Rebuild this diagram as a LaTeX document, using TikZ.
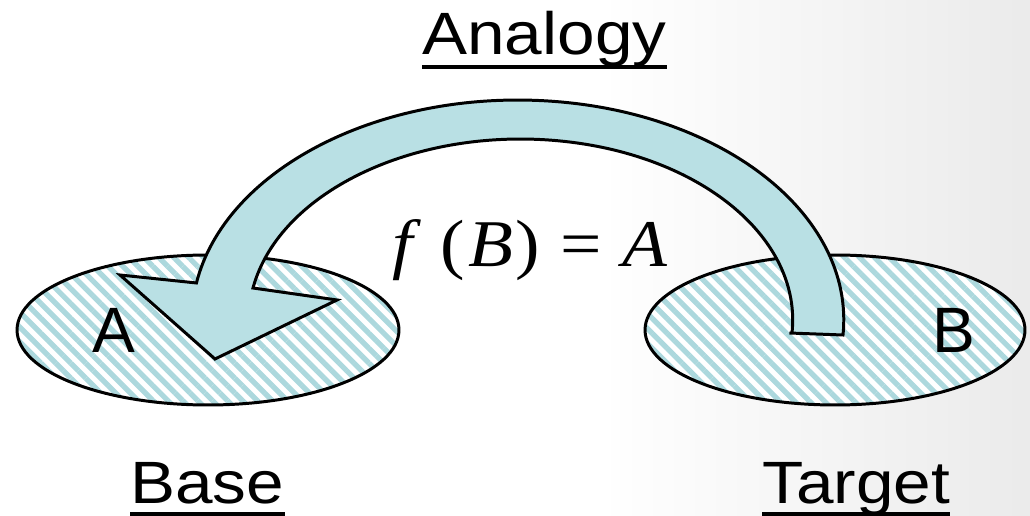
\documentclass[tikz,border=0pt]{standalone}
\usepackage{fontspec}
\setmainfont{Liberation Sans}
\newfontfamily\tms{Liberation Serif}
\usetikzlibrary{shapes.geometric,patterns.meta,calc}
\definecolor{arrowcol}{RGB}{185,224,228}
\definecolor{hatchcol}{RGB}{172,216,221}
\begin{document}
\begin{tikzpicture}[x=0.02cm,y=-0.02cm,
  region/.style={ellipse, draw=black, line width=1.7pt, preaction={fill=white},
    pattern={Lines[angle=-45,distance=6pt,line width=3pt]}, pattern color=hatchcol, inner sep=0pt},
  arrowbody/.style={fill=arrowcol, draw=black, line width=1.7pt, line join=miter},
  lbl/.style={inner sep=0pt, anchor=base west, font=\fontsize{34}{40}\selectfont, xscale=1.13},
  letter/.style={inner sep=0pt, anchor=base west, font=\fontsize{36.5}{42}\selectfont},
  formula/.style={inner sep=0pt, anchor=base west, font=\tms\fontsize{38}{44}\selectfont, xscale=1.1},
  uline/.style={draw=black, line width=2pt}]
\useasboundingbox (0,0) rectangle (1030,516);
\fill[white] (0,0) rectangle (1030,516);
\shade[left color=white, right color=black!8] (600,0) rectangle (1030,516);
\node[region, minimum width=7.64cm, minimum height=3cm] (ellA) at (208,330) {};
\node[region, minimum width=7.6cm, minimum height=3cm] (ellB) at (835,330) {};
\filldraw[arrowbody] (789.3,333) -- (843,335)
  arc[start angle=3.9, end angle=-170.3, x radius=326, y radius=220]
  -- (120,275) -- (215,359) -- (337,300) -- (253,288)
  arc[start angle=-169.8, end angle=4.1, x radius=272, y radius=181] -- cycle;
\node[lbl] (analogy) at (422,55) {Analogy};
\draw[uline] ($(analogy.base west)+(0,12)$) -- ($(analogy.base east)+(0,12)$);
\node[lbl] (base) at (130,503) {Base};
\draw[uline] ($(base.base west)+(0,11)$) -- ($(base.base east)+(0,11)$);
\node[lbl] (target) at (762,503) {Target};
\draw[uline] ($(target.base west)+(0,11)$) -- ($(target.base east)+(0,11)$);
\node[letter] (la) at (92,353) {A};
\node[letter] (lb) at (932,353) {B};
\node[formula] (fba) at (392,267) {\itshape f\kern0.38em\upshape(\kern0.04em\itshape B\kern0.04em\upshape)\kern0.28em=\kern0.28em\itshape A};
\end{tikzpicture}
\end{document}
